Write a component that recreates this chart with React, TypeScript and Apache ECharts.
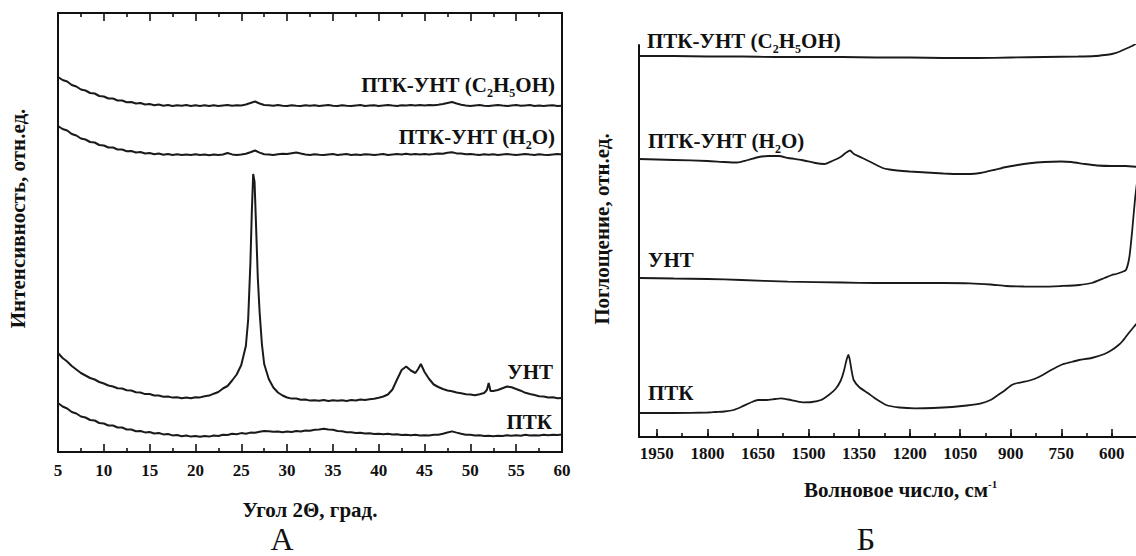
import React, { useEffect, useRef } from "react";
import * as echarts from "echarts";

const FONT = "'Liberation Serif', 'Times New Roman', serif";
const INK = "#111";

// ---------- Panel A: XRD (2θ, intensity in arbitrary units) ----------
const xTicksA = [5, 10, 15, 20, 25, 30, 35, 40, 45, 50, 55, 60];
const twoTheta = [
  5, 5.5, 6, 6.5, 7, 7.5, 8, 8.5, 9, 9.5,
  10, 10.5, 11, 11.5, 12, 12.5, 13, 13.5, 14, 14.5,
  15, 15.5, 16, 16.5, 17, 17.5, 18, 18.5, 19, 19.5,
  20, 20.5, 21, 21.5, 22, 22.5, 23, 23.5, 24, 24.5,
  25, 25.5, 26, 26.5, 27, 27.5, 28, 28.5, 29, 29.5,
  30, 30.5, 31, 31.5, 32, 32.5, 33, 33.5, 34, 34.5,
  35, 35.5, 36, 36.5, 37, 37.5, 38, 38.5, 39, 39.5,
  40, 40.5, 41, 41.5, 42, 42.5, 43, 43.5, 44, 44.5,
  45, 45.5, 46, 46.5, 47, 47.5, 48, 48.5, 49, 49.5,
  50, 50.5, 51, 51.5, 52, 52.5, 53, 53.5, 54, 54.5,
  55, 55.5, 56, 56.5, 57, 57.5, 58, 58.5, 59, 59.5,
  60,
];
const xrdEthanol = [
  375, 372, 370.5, 367, 365.5, 362.5, 361.5, 359, 358.5, 356,
  355.5, 353.5, 353.5, 351.5, 351.5, 349.8, 350, 348.5, 349, 347.5,
  348, 346.7, 347.5, 346.3, 347, 346, 346.8, 346.2, 346.9, 346,
  346.8, 346, 346.7, 345.9, 346.8, 346.1, 346.6, 347, 346.2, 346.7,
  346.5, 347.5, 349, 350.5, 348.5, 347, 346.8, 346.2, 346.9, 346.3,
  346, 346.8, 346.3, 345.9, 346.7, 346.2, 346.8, 346, 346.6, 346.9,
  346.2, 346, 346.8, 346.3, 345.9, 346.6, 346.9, 346.1, 346.5, 346.8,
  346.1, 346.5, 346.9, 346.4, 346, 346.8, 346.5, 347, 346.6, 347.1,
  346.6, 347, 346.7, 347.3, 348, 349, 350, 348.5, 347.3, 346.6,
  346.1, 346.6, 346.9, 346.3, 346, 346.6, 346.9, 346.4, 346, 346.5,
  346.9, 346.2, 346.6, 346.9, 346.1, 346.5, 346, 346.4, 346.8, 346.1,
  346.3,
];
const xrdWater = [
  326, 323, 321.5, 318, 316.5, 313.5, 312.5, 310, 309.5, 307,
  306.5, 304.5, 304.5, 302.5, 302.5, 300.8, 301, 299.5, 300, 298.5,
  299, 297.8, 298.5, 297.2, 297.9, 297, 297.7, 296.9, 297.6, 297,
  297.7, 296.9, 297.5, 296.8, 297.6, 297, 297.5, 299, 297.6, 297,
  297.4, 298.2, 299.8, 301.5, 299.4, 297.8, 297.6, 297, 297.8, 298.3,
  298, 298.8, 299.5, 298.5, 297.6, 297, 297.7, 297.2, 296.9, 297.5,
  297.9, 297.1, 297.5, 297.9, 297, 297.4, 297, 297.8, 297.4, 297,
  297.4, 297.9, 297.1, 297.5, 297.9, 297.4, 298.2, 297.6, 298, 297.6,
  298, 297.6, 298, 298.5, 298.2, 299.3, 299.8, 298.6, 298.4, 297.7,
  297.9, 297.4, 297, 297.7, 297.3, 297.8, 297.1, 297.5, 297.9, 297.4,
  297, 297.5, 297.9, 297.4, 297, 297.7, 297.3, 297, 297.5, 297.9,
  297.4,
];
const xrdPTK = [
  49, 45.5, 43.5, 40, 38.5, 35.5, 34.5, 32, 31.5, 29,
  28.5, 26.5, 26.5, 24.5, 24.5, 22.5, 22.5, 20.8, 21, 19.6,
  20, 18.5, 19, 17.6, 18, 16.6, 17, 15.8, 16.5, 15.4,
  16, 15.2, 16, 15.4, 16.5, 16, 17.3, 17, 18.3, 17.8,
  18.9, 18.3, 19.4, 19.3, 20.2, 21, 20.8, 20.2, 20.6, 19.7,
  20.4, 19.9, 20.9, 20.4, 21.4, 21.2, 22.3, 22.4, 23.3, 22.6,
  22.3, 21, 20.8, 19.8, 19.8, 19.1, 19.3, 18.6, 18.8, 18.1,
  18.3, 17.7, 18.3, 17.5, 17.8, 17, 17.3, 16.7, 17.2, 16.5,
  16.8, 16.6, 17.3, 17.2, 18.3, 19.5, 20.6, 19.4, 18.3, 17.3,
  17.2, 16.5, 16.8, 16, 16.3, 15.8, 16.3, 16, 16.7, 16.2,
  16.8, 16.3, 17.2, 16.5, 16.8, 16.6, 17.2, 16.7, 17.3, 16.9,
  17.6,
];
const xrdUNT: [number, number][] = [
  [5, 99], [5.5, 94], [6, 90.5], [6.5, 86], [7, 82.5], [7.5, 79], [8, 76.5], [8.5, 74], [9, 72.5], [9.5, 70],
  [10, 68.5], [10.5, 66.5], [11, 65.5], [11.5, 63.7], [12, 63.5], [12.5, 61.7], [13, 61.5], [13.5, 59.8], [14, 59.5], [14.5, 57.9],
  [15, 58], [15.5, 56.5], [16, 56.5], [16.5, 55.3], [17, 55.5], [17.5, 54.4], [18, 54.8], [18.5, 53.8], [19, 54.5], [19.5, 53.7],
  [20, 54.8], [20.5, 54.6], [21, 55.8], [21.5, 56.4], [22, 58.3], [22.5, 60], [23, 63.5], [23.5, 66], [24, 71.5], [24.5, 77.5],
  [25, 87], [25.5, 106], [25.75, 132], [26, 190], [26.15, 240], [26.3, 278], [26.45, 270], [26.6, 230],
  [26.8, 175], [27, 140], [27.25, 108], [27.5, 88],
  [28, 73], [28.5, 64.5], [29, 59.5], [29.5, 56.5],
  [30, 54.5], [30.5, 53.4], [31, 53.5], [31.5, 52.3], [32, 52.5], [32.5, 51.4], [33, 51.8], [33.5, 51.2], [34, 51.9], [34.5, 51],
  [35, 51.8], [35.5, 51.2], [36, 51.8], [36.5, 51], [37, 51.9], [37.5, 51.4], [38, 52.4], [38.5, 52.1], [39, 52.8], [39.5, 53.2],
  [40, 54.3], [40.5, 55.5], [41, 57.5], [41.5, 62.5], [42, 72.5], [42.5, 82], [43, 85.5], [43.5, 81.5], [44, 79], [44.3, 83],
  [44.6, 88], [45, 80], [45.5, 73],
  [46, 67.5], [46.5, 65], [47, 63], [47.5, 61.5], [48, 60.8], [48.5, 59.5], [49, 58.8], [49.5, 57.7],
  [50, 57.5], [50.5, 56.8], [51, 57.8], [51.5, 59], [51.8, 62], [52, 69], [52.2, 61], [52.5, 61], [53, 62], [53.5, 63.8],
  [54, 65.5], [54.5, 64.8],
  [55, 63], [55.5, 61.3], [56, 59.2], [56.5, 58], [57, 57], [57.5, 55.8], [58, 55.6], [58.5, 54.6], [59, 54.7], [59.5, 53.8],
  [60, 54],
];

// ---------- Panel Б: IR spectra (wavenumber, absorbance in arbitrary units) ----------
const xTicksB = [1950, 1800, 1650, 1500, 1350, 1200, 1050, 900, 750, 600];
const irEthanol: [number, number][] = [
  [2003, 381], [1900, 381], [1800, 380.5], [1700, 380.5], [1600, 380], [1500, 380], [1400, 380],
  [1300, 379.5], [1200, 379.5], [1100, 379], [1000, 379], [900, 379.5], [800, 380], [700, 380.5],
  [650, 381], [620, 382], [600, 383], [580, 385], [560, 388], [540, 391], [520, 395],
];
const irWater: [number, number][] = [
  [2003, 278], [1900, 277], [1800, 276], [1750, 275], [1712, 274.5], [1680, 277], [1647, 280],
  [1620, 281], [1588, 281], [1560, 279], [1520, 277], [1480, 274], [1453, 273], [1430, 276],
  [1405, 280], [1390, 284], [1377, 286.5], [1365, 283], [1340, 279], [1310, 274], [1280, 269],
  [1260, 267.5], [1237, 266.5], [1200, 265.5], [1150, 264.5], [1100, 263.5], [1050, 263],
  [1021, 263], [990, 264], [950, 267], [914, 270], [880, 272], [850, 273.5], [800, 275],
  [751, 275.5], [720, 275], [680, 273], [644, 271.5], [600, 271], [560, 271], [520, 270],
];
const irUNT: [number, number][] = [
  [2003, 159], [1900, 158.5], [1800, 158], [1700, 157], [1561, 155.3], [1400, 154.5], [1300, 154],
  [1200, 154], [1100, 154], [1021, 153.7], [960, 152.5], [914, 151], [860, 150.5], [804, 150.3],
  [750, 151], [697, 152], [660, 154], [622, 159], [600, 162], [587, 163], [570, 165], [558, 167],
  [548, 180], [540, 205], [532, 235], [525, 255], [520, 262],
];
const irPTK: [number, number][] = [
  [2003, 24], [1900, 24], [1800, 24.5], [1776, 25], [1750, 25.5], [1722, 27], [1700, 30], [1668, 35],
  [1650, 37], [1626, 37], [1600, 38], [1582, 38.7], [1560, 37.5], [1517, 34.7], [1490, 35], [1463, 37],
  [1440, 42], [1420, 48], [1405, 56], [1395, 66], [1388, 76], [1382, 82], [1378, 78], [1372, 66],
  [1366, 57], [1350, 50], [1323, 43.7], [1300, 38], [1270, 32], [1230, 29.5], [1184, 28.7], [1130, 29],
  [1074, 30], [1030, 31.5], [988, 33.7], [960, 37], [945, 40.3], [920, 46], [897, 52], [880, 54],
  [859, 55.3], [830, 58], [805, 62], [780, 67], [751, 72], [720, 75], [697, 77], [660, 79], [622, 83],
  [600, 87], [580, 92], [568, 96], [550, 104], [535, 110], [520, 116],
];

const labelFont = { fontFamily: FONT, fontWeight: "bold" as const, fontSize: 17, color: INK };
const nameFont = { fontFamily: FONT, fontWeight: "bold" as const, fontSize: 21, color: INK };

const richSub = {
  n: { fontFamily: FONT, fontWeight: "bold", fontSize: 21, lineHeight: 28, fill: INK },
  s: { fontFamily: FONT, fontWeight: "bold", fontSize: 12, lineHeight: 10, verticalAlign: "bottom", fill: INK },
};

function seriesLabel(text: string, x: number, y: number, align: "left" | "right") {
  return {
    type: "text",
    x,
    y,
    z: 100,
    style: { text, rich: richSub, align, verticalAlign: "middle", fill: INK },
  };
}

const lineA = (data: number[][], name: string) => ({
  type: "line",
  name,
  xAxisIndex: 0,
  yAxisIndex: 0,
  data,
  symbol: "none",
  showSymbol: false,
  lineStyle: { color: "#1a1a1a", width: 2 },
});
const lineB = (data: number[][], name: string) => ({
  type: "line",
  name,
  xAxisIndex: 2,
  yAxisIndex: 1,
  data,
  symbol: "none",
  showSymbol: false,
  smooth: 0.2,
  lineStyle: { color: "#1a1a1a", width: 1.8 },
});

export default function App() {
  const ref = useRef<HTMLDivElement>(null);
  useEffect(() => {
    const chart = echarts.init(ref.current!, null, { renderer: "svg" });
    const tickLine = { color: INK, width: 1.6 };
    const option: any = {
      animation: false,
      backgroundColor: "#fff",
      grid: [
        {
          left: 58, top: 13, width: 504, height: 439, show: true, borderColor: INK, borderWidth: 2,
          backgroundColor: "transparent", outerBoundsMode: "none", containLabel: false,
        },
        { left: 639, top: 45, width: 523.4, height: 392, outerBoundsMode: "none", containLabel: false },
      ],
      xAxis: [
        {
          gridIndex: 0, type: "value", position: "bottom", min: 5, max: 60, interval: 5,
          axisLine: { show: true, onZero: false, lineStyle: { color: INK, width: 2 } },
          axisTick: { show: true, inside: true, length: 8, lineStyle: tickLine },
          minorTick: { show: true, splitNumber: 2, length: 4, lineStyle: tickLine },
          splitLine: { show: false },
          minorSplitLine: { show: false },
          axisLabel: { ...labelFont, margin: 10, formatter: (v: number) => (xTicksA.includes(v) ? String(v) : "") },
          name: "Угол 2Θ, град.", nameLocation: "middle", nameGap: 47,
          nameTextStyle: nameFont,
        },
        {
          gridIndex: 0, type: "value", position: "top", min: 5, max: 60, interval: 5,
          axisLine: { show: true, onZero: false, lineStyle: { color: INK, width: 2 } },
          axisTick: { show: true, inside: true, length: 8, lineStyle: tickLine },
          minorTick: { show: true, splitNumber: 2, length: 4, lineStyle: tickLine },
          splitLine: { show: false },
          axisLabel: { show: false },
        },
        {
          gridIndex: 1, type: "value", position: "bottom", min: 450, max: 2003, interval: 75, inverse: true,
          axisLine: { show: true, onZero: false, lineStyle: { color: INK, width: 2 } },
          axisTick: { show: true, inside: true, length: 4, lineStyle: tickLine },
          splitLine: { show: false },
          axisLabel: { ...labelFont, margin: 8, formatter: (v: number) => (xTicksB.includes(v) ? String(v) : "") },
          name: "{n|Волновое число, см}{p|-1}", nameLocation: "middle", nameGap: 41,
          nameTextStyle: {
            rich: {
              n: { fontFamily: FONT, fontWeight: "bold", fontSize: 21, lineHeight: 24, color: INK },
              p: { fontFamily: FONT, fontWeight: "bold", fontSize: 11, lineHeight: 10, verticalAlign: "top", color: INK },
            },
          },
        },
        {
          gridIndex: 1, type: "value", position: "bottom", min: 450, max: 2003, interval: 150, inverse: true,
          axisLine: { show: false, onZero: false },
          axisTick: { show: true, inside: true, length: 8, lineStyle: tickLine },
          splitLine: { show: false },
          axisLabel: { show: false },
        },
      ],
      yAxis: [
        {
          gridIndex: 0, type: "value", min: 0, max: 439,
          axisLine: { show: false }, axisTick: { show: false }, axisLabel: { show: false }, splitLine: { show: false },
          name: "Интенсивность, отн.ед.", nameLocation: "middle", nameRotate: 90, nameGap: 30,
          nameTextStyle: { ...nameFont, padding: [0, 0, 0, 28] },
        },
        {
          gridIndex: 1, type: "value", min: 0, max: 392,
          axisLine: { show: true, onZero: false, lineStyle: { color: INK, width: 2 } },
          axisTick: { show: false }, axisLabel: { show: false }, splitLine: { show: false },
          name: "Поглощение, отн.ед.", nameLocation: "middle", nameRotate: 90, nameGap: 27,
          nameTextStyle: { ...nameFont, padding: [0, 0, 0, 24] },
        },
      ],
      series: [
        lineA(twoTheta.map((x, i) => [x, xrdEthanol[i]]), "ПТК-УНТ (C2H5OH)"),
        lineA(twoTheta.map((x, i) => [x, xrdWater[i]]), "ПТК-УНТ (H2O)"),
        lineA(xrdUNT, "УНТ"),
        lineA(twoTheta.map((x, i) => [x, xrdPTK[i]]), "ПТК"),
        lineB(irEthanol, "ПТК-УНТ (C2H5OH)"),
        lineB(irWater, "ПТК-УНТ (H2O)"),
        lineB(irUNT, "УНТ"),
        lineB(irPTK, "ПТК"),
      ],
      graphic: [
        seriesLabel("{n|ПТК-УНТ (C}{s|2}{n|H}{s|5}{n|OH)}", 555, 85, "right"),
        seriesLabel("{n|ПТК-УНТ (H}{s|2}{n|O)}", 555, 137, "right"),
        seriesLabel("{n|УНТ}", 553, 372, "right"),
        seriesLabel("{n|ПТК}", 552, 422, "right"),
        seriesLabel("{n|ПТК-УНТ (C}{s|2}{n|H}{s|5}{n|OH)}", 647, 41, "left"),
        seriesLabel("{n|ПТК-УНТ (H}{s|2}{n|O)}", 648, 141, "left"),
        seriesLabel("{n|УНТ}", 648, 260, "left"),
        seriesLabel("{n|ПТК}", 648, 393, "left"),
        {
          type: "text", x: 282, y: 539, z: 100,
          style: { text: "А", fontFamily: FONT, fontSize: 32, fill: INK, align: "center", verticalAlign: "middle" },
        },
        {
          type: "text", x: 866, y: 539, z: 100,
          style: { text: "Б", fontFamily: FONT, fontSize: 32, fill: INK, align: "center", verticalAlign: "middle" },
        },
      ],
    };
    chart.setOption(option);
    return () => chart.dispose();
  }, []);
  return (
    <div
      ref={ref}
      style={{ position: "fixed", left: 0, top: 0, width: 1136, height: 556, background: "#fff" }}
    />
  );
}
